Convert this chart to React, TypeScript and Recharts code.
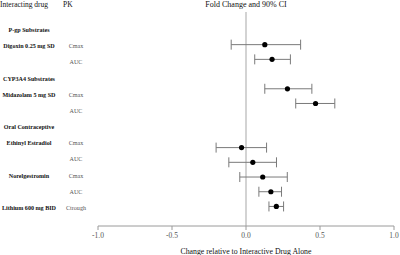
import { ComposedChart, Scatter, ErrorBar, XAxis, YAxis, ReferenceLine, Label } from "recharts";

// Left label column: one entry per row, top to bottom.
const DRUGS = [
  "P-gp Substrates",
  "Digoxin 0.25 mg SD",
  "",
  "CYP3A4 Substrates",
  "Midazolam 5 mg SD",
  "",
  "Oral Contraceptive",
  "Ethinyl Estradiol",
  "",
  "Norelgestromin",
  "",
  "Lithium 600 mg BID",
];
const PK = ["", "Cmax", "AUC", "", "Cmax", "AUC", "", "Cmax", "AUC", "Cmax", "AUC", "Ctrough"];

// Forest plot: slot = row of the CI panel (blank slots sit under group headers).
const CI_SLOT = [0, 1, 3, 4, 7, 8, 9, 10, 11];
const POINT = [0.127, 0.176, 0.28, 0.47, -0.03, 0.046, 0.113, 0.168, 0.205];
const LOWER = [-0.1, 0.059, 0.127, 0.336, -0.202, -0.116, -0.042, 0.087, 0.155];
const UPPER = [0.369, 0.3, 0.445, 0.6, 0.139, 0.206, 0.279, 0.24, 0.254];

const X_TICKS = [-1, -0.5, 0, 0.5, 1];

const SERIF = "'Liberation Serif', 'Times New Roman', serif";
const AXIS = "#9a9a9a";
const BAR = "#7a7a7a";

const data = CI_SLOT.map((slot, i) => ({
  slot,
  pt: POINT[i],
  err: [POINT[i] - LOWER[i], UPPER[i] - POINT[i]],
}));

function LabelTick(props: { y?: number; payload?: { value: number } }) {
  const { y, payload } = props;
  if (y == null || !payload) return null;
  const i = payload.value;
  return (
    <g fontFamily={SERIF} fontSize={6.1}>
      <text x={29} y={y} textAnchor="middle" dominantBaseline="central" fontWeight={700} fill="#111">
        {DRUGS[i]}
      </text>
      <text x={76} y={y} textAnchor="middle" dominantBaseline="central" fill="#555">
        {PK[i]}
      </text>
    </g>
  );
}

function Dot(props: { cx?: number; cy?: number }) {
  const { cx, cy } = props;
  if (cx == null || cy == null) return null;
  return <circle cx={cx} cy={cy} r={2.6} fill="#000" />;
}

export default function App() {
  return (
    <div
      style={{
        position: "absolute",
        left: 0,
        top: 0,
        width: 400,
        height: 255,
        background: "#fff",
        opacity: 0.995, // keeps the small text on grayscale antialiasing
      }}
    >
      <div
        style={{
          position: "absolute",
          left: 0,
          top: 0,
          width: 400,
          fontFamily: SERIF,
          fontSize: 7.5,
          lineHeight: "10px",
          color: "#111",
        }}
      >
        <span style={{ position: "absolute", left: 0, top: 0 }}>Interacting drug</span>
        <span style={{ position: "absolute", left: 63, top: 0 }}>PK</span>
        <span style={{ position: "absolute", left: 146, width: 200, top: 0, textAlign: "center", fontSize: 8 }}>
          Fold Change and 90% CI
        </span>
      </div>
      <ComposedChart width={400} height={255} data={data} margin={{ top: 12, right: 6, bottom: 0, left: 0 }}>
        <XAxis
          type="number"
          dataKey="pt"
          domain={[-1, 1]}
          ticks={X_TICKS}
          interval={0}
          allowDataOverflow
          tickFormatter={(v: number) => v.toFixed(1)}
          tick={{ fill: "#555", fontSize: 7.5, fontFamily: SERIF }}
          axisLine={{ stroke: AXIS }}
          tickLine={{ stroke: AXIS }}
          tickSize={4}
          tickMargin={3}
          height={29}
        >
          <Label
            value="Change relative to Interactive Drug Alone"
            position="insideBottom"
            offset={1}
            fill="#111"
            fontSize={7.8}
            fontFamily={SERIF}
          />
        </XAxis>
        <YAxis
          yAxisId="lab"
          type="number"
          domain={[-1.11, 12.11]}
          reversed
          allowDataOverflow
          ticks={DRUGS.map((_, i) => i)}
          interval={0}
          tick={<LabelTick />}
          tickLine={false}
          axisLine={false}
          width={98}
        />
        <YAxis yAxisId="ci" type="number" dataKey="slot" domain={[-2.22, 12.33]} reversed allowDataOverflow hide />
        <ReferenceLine yAxisId="ci" x={0} stroke="#c4c4c4" strokeWidth={1.5} />
        <Scatter yAxisId="ci" dataKey="slot" shape={<Dot />} isAnimationActive={false}>
          <ErrorBar dataKey="err" direction="x" width={5} stroke={BAR} strokeWidth={1} />
        </Scatter>
      </ComposedChart>
    </div>
  );
}
